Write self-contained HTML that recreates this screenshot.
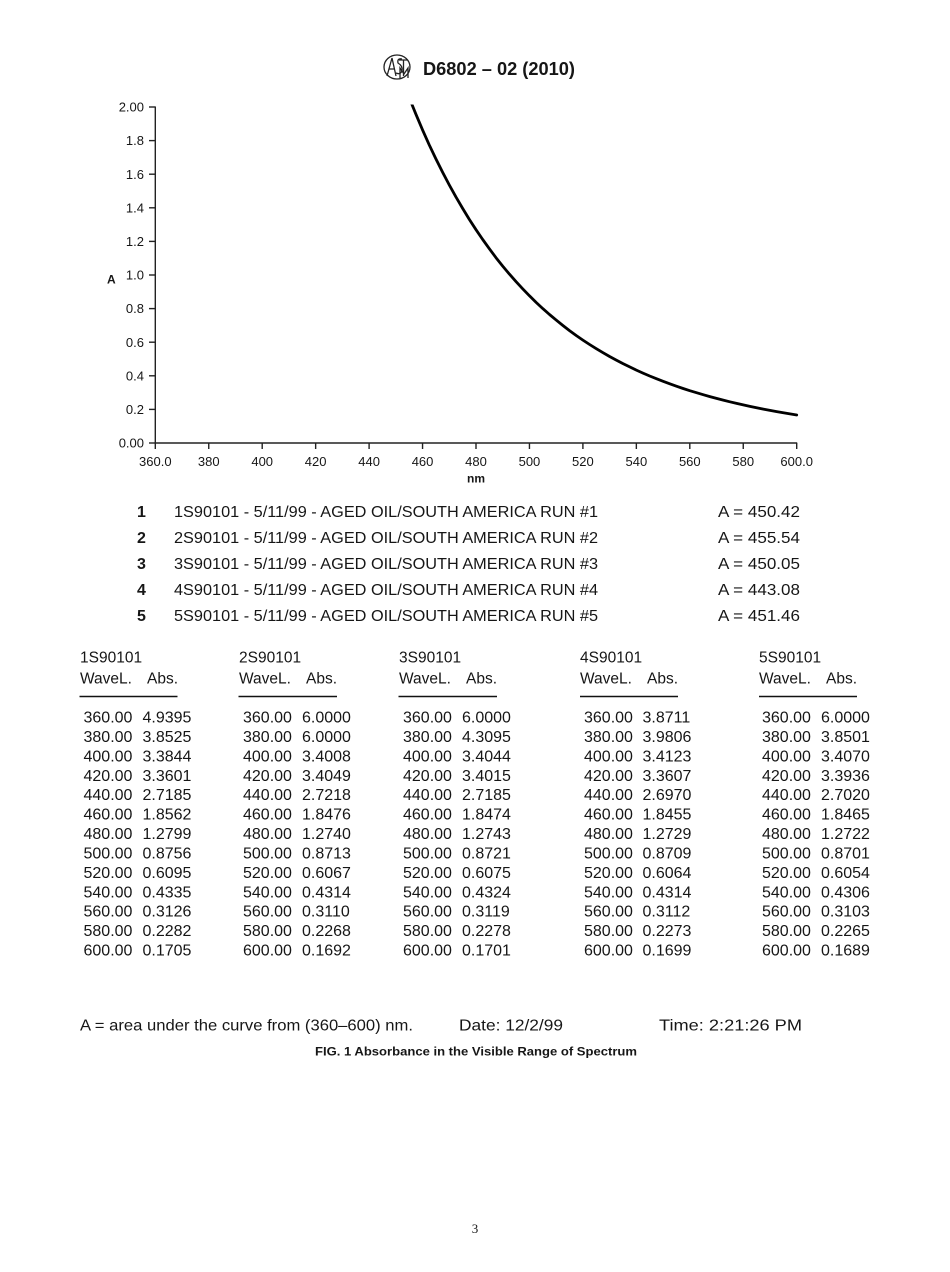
<!DOCTYPE html>
<html>
<head>
<meta charset="utf-8">
<style>
  html, body { margin: 0; padding: 0; background: #fff; }
  svg { display: block; }
  text { font-family: "Liberation Sans", "DejaVu Sans", sans-serif; fill: #161616; }
</style>
</head>
<body>
<svg width="950" height="1272" viewBox="0 0 950 1272" xmlns="http://www.w3.org/2000/svg">
  <rect width="950" height="1272" fill="#fff"/>

  <!-- Header -->
  <g transform="translate(383,54)" fill="none" stroke="#222" stroke-width="1.3">
    <ellipse cx="14" cy="13" rx="13" ry="12"/>
    <path d="M4 22 L9 4 L13 22 M6 15 H11"/>
    <path d="M19 5 Q14 4 15 9 Q20 12 19 17 Q17 21 13 19"/>
    <path d="M16 6 H25 M20.5 6 V22"/>
    <path d="M17 24 V14 L21 20 L25 14 V24"/>
  </g>
  <text x="423" y="75" font-size="18" font-weight="bold" textLength="152" lengthAdjust="spacingAndGlyphs">D6802 – 02 (2010)</text>

  <!-- Axes -->
  <g stroke="#222" stroke-width="1.4" fill="none">
    <line x1="155.3" y1="106.5" x2="155.3" y2="443.5"/>
    <line x1="154.6" y1="443" x2="797.2" y2="443"/>
    <!-- y ticks -->
    <line x1="149" y1="443" x2="155.3" y2="443"/>
    <line x1="149" y1="409.4" x2="155.3" y2="409.4"/>
    <line x1="149" y1="375.8" x2="155.3" y2="375.8"/>
    <line x1="149" y1="342.2" x2="155.3" y2="342.2"/>
    <line x1="149" y1="308.6" x2="155.3" y2="308.6"/>
    <line x1="149" y1="275" x2="155.3" y2="275"/>
    <line x1="149" y1="241.4" x2="155.3" y2="241.4"/>
    <line x1="149" y1="207.8" x2="155.3" y2="207.8"/>
    <line x1="149" y1="174.2" x2="155.3" y2="174.2"/>
    <line x1="149" y1="140.6" x2="155.3" y2="140.6"/>
    <line x1="149" y1="107" x2="155.3" y2="107"/>
    <!-- x ticks -->
    <line x1="155.3" y1="443" x2="155.3" y2="449"/>
    <line x1="208.75" y1="443" x2="208.75" y2="449"/>
    <line x1="262.2" y1="443" x2="262.2" y2="449"/>
    <line x1="315.65" y1="443" x2="315.65" y2="449"/>
    <line x1="369.1" y1="443" x2="369.1" y2="449"/>
    <line x1="422.55" y1="443" x2="422.55" y2="449"/>
    <line x1="476.0" y1="443" x2="476.0" y2="449"/>
    <line x1="529.45" y1="443" x2="529.45" y2="449"/>
    <line x1="582.9" y1="443" x2="582.9" y2="449"/>
    <line x1="636.35" y1="443" x2="636.35" y2="449"/>
    <line x1="689.8" y1="443" x2="689.8" y2="449"/>
    <line x1="743.25" y1="443" x2="743.25" y2="449"/>
    <line x1="796.7" y1="443" x2="796.7" y2="449"/>
  </g>

  <!-- y labels -->
  <g font-size="13" text-anchor="end">
    <text x="144" y="447.6">0.00</text>
    <text x="144" y="414">0.2</text>
    <text x="144" y="380.4">0.4</text>
    <text x="144" y="346.8">0.6</text>
    <text x="144" y="313.2">0.8</text>
    <text x="144" y="279.6">1.0</text>
    <text x="144" y="246">1.2</text>
    <text x="144" y="212.4">1.4</text>
    <text x="144" y="178.8">1.6</text>
    <text x="144" y="145.2">1.8</text>
    <text x="144" y="111.6">2.00</text>
  </g>
  <text x="107" y="283.5" font-size="12" font-weight="bold">A</text>

  <!-- x labels -->
  <g font-size="13" text-anchor="middle">
    <text x="155.3" y="465.8">360.0</text>
    <text x="208.75" y="465.8">380</text>
    <text x="262.2" y="465.8">400</text>
    <text x="315.65" y="465.8">420</text>
    <text x="369.1" y="465.8">440</text>
    <text x="422.55" y="465.8">460</text>
    <text x="476.0" y="465.8">480</text>
    <text x="529.45" y="465.8">500</text>
    <text x="582.9" y="465.8">520</text>
    <text x="636.35" y="465.8">540</text>
    <text x="689.8" y="465.8">560</text>
    <text x="743.25" y="465.8">580</text>
    <text x="796.7" y="465.8">600.0</text>
  </g>
  <text x="476" y="482.5" font-size="12" font-weight="bold" text-anchor="middle">nm</text>

  <!-- Curve -->
  <defs>
    <clipPath id="plotclip"><rect x="156" y="104.5" width="700" height="340"/></clipPath>
  </defs>
  <polyline clip-path="url(#plotclip)" fill="none" stroke="#000" stroke-width="2.8" stroke-linecap="round" stroke-linejoin="round"
    points="405.9,89.5 409.2,97.7 415.9,114.2 422.55,129.9 429.2,144.8 435.9,158.9 442.6,172.3 449.3,185.0 456.0,197.1 462.7,208.5 469.3,219.4 476.0,229.7 482.7,239.5 489.4,248.8 496.0,257.7 502.7,266.1 509.4,274.1 516.1,281.7 522.8,288.9 529.45,295.8 536.1,302.4 542.8,308.6 549.5,314.5 556.2,320.1 562.9,325.5 569.5,330.6 576.2,335.5 582.9,340.1 589.6,344.5 596.3,348.7 603.0,352.7 609.6,356.5 616.3,360.1 623.0,363.6 629.7,366.9 636.35,370.1 643.0,373.1 649.7,376.0 656.4,378.7 663.1,381.3 669.8,383.8 676.4,386.2 683.1,388.5 689.8,390.7 696.5,392.7 703.2,394.7 709.9,396.6 716.5,398.4 723.2,400.1 729.9,401.8 736.6,403.4 743.25,404.9 749.9,406.4 756.6,407.8 763.3,409.1 770.0,410.4 776.7,411.6 783.3,412.8 790.0,413.9 796.7,415.0"/>

  <!-- Legend -->
  <g font-size="16">
    <text x="137" y="517" font-weight="bold">1</text>
    <text x="137" y="543" font-weight="bold">2</text>
    <text x="137" y="569" font-weight="bold">3</text>
    <text x="137" y="595" font-weight="bold">4</text>
    <text x="137" y="621" font-weight="bold">5</text>
    <text x="174" y="517" textLength="424" lengthAdjust="spacingAndGlyphs">1S90101 - 5/11/99 - AGED OIL/SOUTH AMERICA RUN #1</text>
    <text x="174" y="543" textLength="424" lengthAdjust="spacingAndGlyphs">2S90101 - 5/11/99 - AGED OIL/SOUTH AMERICA RUN #2</text>
    <text x="174" y="569" textLength="424" lengthAdjust="spacingAndGlyphs">3S90101 - 5/11/99 - AGED OIL/SOUTH AMERICA RUN #3</text>
    <text x="174" y="595" textLength="424" lengthAdjust="spacingAndGlyphs">4S90101 - 5/11/99 - AGED OIL/SOUTH AMERICA RUN #4</text>
    <text x="174" y="621" textLength="424" lengthAdjust="spacingAndGlyphs">5S90101 - 5/11/99 - AGED OIL/SOUTH AMERICA RUN #5</text>
    <text x="718" y="517" textLength="82" lengthAdjust="spacingAndGlyphs">A = 450.42</text>
    <text x="718" y="543" textLength="82" lengthAdjust="spacingAndGlyphs">A = 455.54</text>
    <text x="718" y="569" textLength="82" lengthAdjust="spacingAndGlyphs">A = 450.05</text>
    <text x="718" y="595" textLength="82" lengthAdjust="spacingAndGlyphs">A = 443.08</text>
    <text x="718" y="621" textLength="82" lengthAdjust="spacingAndGlyphs">A = 451.46</text>
  </g>

  <!-- Table headers -->
  <g font-size="15.5">
    <text x="80" y="662.5">1S90101</text>
    <text x="239" y="662.5">2S90101</text>
    <text x="399" y="662.5">3S90101</text>
    <text x="580" y="662.5">4S90101</text>
    <text x="759" y="662.5">5S90101</text>
    <text x="80" y="683.5">WaveL.</text><text x="147" y="683.5">Abs.</text>
    <text x="239" y="683.5">WaveL.</text><text x="306" y="683.5">Abs.</text>
    <text x="399" y="683.5">WaveL.</text><text x="466" y="683.5">Abs.</text>
    <text x="580" y="683.5">WaveL.</text><text x="647" y="683.5">Abs.</text>
    <text x="759" y="683.5">WaveL.</text><text x="826" y="683.5">Abs.</text>
  </g>
  <g stroke="#111" stroke-width="1.4">
    <line x1="79.5" y1="696.5" x2="177.5" y2="696.5"/>
    <line x1="238.5" y1="696.5" x2="337" y2="696.5"/>
    <line x1="398.5" y1="696.5" x2="497" y2="696.5"/>
    <line x1="580" y1="696.5" x2="678" y2="696.5"/>
    <line x1="759" y1="696.5" x2="857" y2="696.5"/>
  </g>

  <!-- Table data -->
  <g font-size="16">
    <g>
      <text x="83.5" y="722.5">360.00</text><text x="83.5" y="741.9">380.00</text><text x="83.5" y="761.3">400.00</text><text x="83.5" y="780.8">420.00</text><text x="83.5" y="800.2">440.00</text><text x="83.5" y="819.6">460.00</text><text x="83.5" y="839.0">480.00</text><text x="83.5" y="858.4">500.00</text><text x="83.5" y="877.9">520.00</text><text x="83.5" y="897.3">540.00</text><text x="83.5" y="916.7">560.00</text><text x="83.5" y="936.1">580.00</text><text x="83.5" y="955.5">600.00</text>
      <text x="243" y="722.5">360.00</text><text x="243" y="741.9">380.00</text><text x="243" y="761.3">400.00</text><text x="243" y="780.8">420.00</text><text x="243" y="800.2">440.00</text><text x="243" y="819.6">460.00</text><text x="243" y="839.0">480.00</text><text x="243" y="858.4">500.00</text><text x="243" y="877.9">520.00</text><text x="243" y="897.3">540.00</text><text x="243" y="916.7">560.00</text><text x="243" y="936.1">580.00</text><text x="243" y="955.5">600.00</text>
      <text x="403" y="722.5">360.00</text><text x="403" y="741.9">380.00</text><text x="403" y="761.3">400.00</text><text x="403" y="780.8">420.00</text><text x="403" y="800.2">440.00</text><text x="403" y="819.6">460.00</text><text x="403" y="839.0">480.00</text><text x="403" y="858.4">500.00</text><text x="403" y="877.9">520.00</text><text x="403" y="897.3">540.00</text><text x="403" y="916.7">560.00</text><text x="403" y="936.1">580.00</text><text x="403" y="955.5">600.00</text>
      <text x="584" y="722.5">360.00</text><text x="584" y="741.9">380.00</text><text x="584" y="761.3">400.00</text><text x="584" y="780.8">420.00</text><text x="584" y="800.2">440.00</text><text x="584" y="819.6">460.00</text><text x="584" y="839.0">480.00</text><text x="584" y="858.4">500.00</text><text x="584" y="877.9">520.00</text><text x="584" y="897.3">540.00</text><text x="584" y="916.7">560.00</text><text x="584" y="936.1">580.00</text><text x="584" y="955.5">600.00</text>
      <text x="762" y="722.5">360.00</text><text x="762" y="741.9">380.00</text><text x="762" y="761.3">400.00</text><text x="762" y="780.8">420.00</text><text x="762" y="800.2">440.00</text><text x="762" y="819.6">460.00</text><text x="762" y="839.0">480.00</text><text x="762" y="858.4">500.00</text><text x="762" y="877.9">520.00</text><text x="762" y="897.3">540.00</text><text x="762" y="916.7">560.00</text><text x="762" y="936.1">580.00</text><text x="762" y="955.5">600.00</text>
    </g>
    <text x="142.5" y="722.5">4.9395</text><text x="142.5" y="741.9">3.8525</text><text x="142.5" y="761.3">3.3844</text><text x="142.5" y="780.8">3.3601</text><text x="142.5" y="800.2">2.7185</text><text x="142.5" y="819.6">1.8562</text><text x="142.5" y="839.0">1.2799</text><text x="142.5" y="858.4">0.8756</text><text x="142.5" y="877.9">0.6095</text><text x="142.5" y="897.3">0.4335</text><text x="142.5" y="916.7">0.3126</text><text x="142.5" y="936.1">0.2282</text><text x="142.5" y="955.5">0.1705</text>
    <text x="302" y="722.5">6.0000</text><text x="302" y="741.9">6.0000</text><text x="302" y="761.3">3.4008</text><text x="302" y="780.8">3.4049</text><text x="302" y="800.2">2.7218</text><text x="302" y="819.6">1.8476</text><text x="302" y="839.0">1.2740</text><text x="302" y="858.4">0.8713</text><text x="302" y="877.9">0.6067</text><text x="302" y="897.3">0.4314</text><text x="302" y="916.7">0.3110</text><text x="302" y="936.1">0.2268</text><text x="302" y="955.5">0.1692</text>
    <text x="462" y="722.5">6.0000</text><text x="462" y="741.9">4.3095</text><text x="462" y="761.3">3.4044</text><text x="462" y="780.8">3.4015</text><text x="462" y="800.2">2.7185</text><text x="462" y="819.6">1.8474</text><text x="462" y="839.0">1.2743</text><text x="462" y="858.4">0.8721</text><text x="462" y="877.9">0.6075</text><text x="462" y="897.3">0.4324</text><text x="462" y="916.7">0.3119</text><text x="462" y="936.1">0.2278</text><text x="462" y="955.5">0.1701</text>
    <text x="642.5" y="722.5">3.8711</text><text x="642.5" y="741.9">3.9806</text><text x="642.5" y="761.3">3.4123</text><text x="642.5" y="780.8">3.3607</text><text x="642.5" y="800.2">2.6970</text><text x="642.5" y="819.6">1.8455</text><text x="642.5" y="839.0">1.2729</text><text x="642.5" y="858.4">0.8709</text><text x="642.5" y="877.9">0.6064</text><text x="642.5" y="897.3">0.4314</text><text x="642.5" y="916.7">0.3112</text><text x="642.5" y="936.1">0.2273</text><text x="642.5" y="955.5">0.1699</text>
    <text x="821" y="722.5">6.0000</text><text x="821" y="741.9">3.8501</text><text x="821" y="761.3">3.4070</text><text x="821" y="780.8">3.3936</text><text x="821" y="800.2">2.7020</text><text x="821" y="819.6">1.8465</text><text x="821" y="839.0">1.2722</text><text x="821" y="858.4">0.8701</text><text x="821" y="877.9">0.6054</text><text x="821" y="897.3">0.4306</text><text x="821" y="916.7">0.3103</text><text x="821" y="936.1">0.2265</text><text x="821" y="955.5">0.1689</text>
  </g>

  <!-- Footer -->
  <g font-size="16">
    <text x="80" y="1030.5" textLength="333" lengthAdjust="spacingAndGlyphs">A = area under the curve from (360–600) nm.</text>
    <text x="459" y="1030.5" textLength="104" lengthAdjust="spacingAndGlyphs">Date: 12/2/99</text>
    <text x="659" y="1030.5" textLength="143" lengthAdjust="spacingAndGlyphs">Time: 2:21:26 PM</text>
  </g>
  <text x="315" y="1055.5" font-size="12" font-weight="bold" textLength="322" lengthAdjust="spacingAndGlyphs">FIG. 1 Absorbance in the Visible Range of Spectrum</text>

  <text x="475" y="1233" font-size="13" text-anchor="middle" style="font-family:'Liberation Serif', serif;">3</text>
</svg>
</body>
</html>
